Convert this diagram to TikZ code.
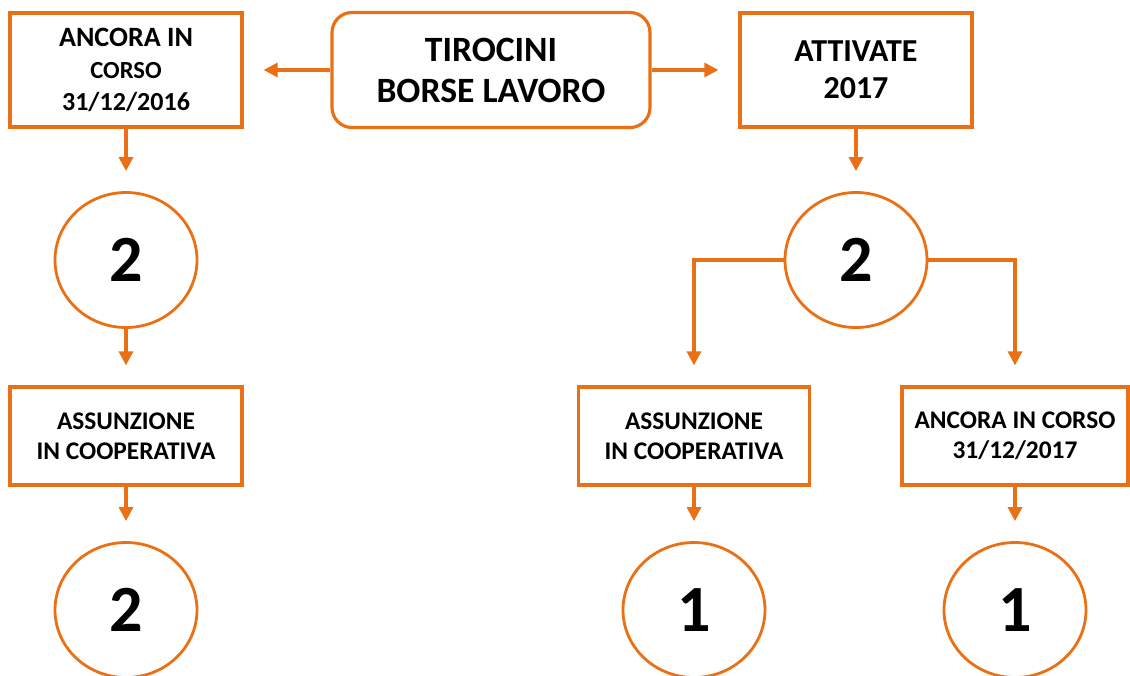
\documentclass[tikz,border=0pt]{standalone}
\usepackage{fontspec}
\setmainfont{Carlito}
\usetikzlibrary{arrows.meta,shapes.geometric}
\definecolor{arancio}{RGB}{234,112,22}
\begin{document}
\begin{tikzpicture}[x=0.5pt,y=-0.5pt,
    box/.style={draw=arancio,line width=1.6pt,minimum width=116pt,minimum height=49pt,
        inner sep=0pt,align=center,font=\bfseries\fontsize{12.7}{15}\selectfont},
    num/.style={draw=arancio,line width=1.4pt,ellipse,minimum width=71pt,minimum height=67.5pt,
        inner sep=0pt,font=\bfseries\fontsize{33}{33}\selectfont},
    arr/.style={draw=arancio,line width=1.6pt,-{Triangle[width=7pt,length=7pt]},shorten >=10pt}]
    \useasboundingbox (0,0) rectangle (1130,675);

    \node[box,rounded corners=10pt,minimum width=159pt,minimum height=57.5pt,
        font=\bfseries\fontsize{17.8}{20.5}\selectfont] (tir) at (491,70) {TIROCINI\\BORSE LAVORO};
    \node[box,minimum height=57pt,font=\bfseries\fontsize{13}{16}\selectfont] (anc16) at (126,70)
        {{\fontsize{14}{16}\selectfont ANCORA IN}\\{\fontsize{12.3}{16}\selectfont CORSO}\\31/12/2016};
    \node[box,minimum height=57pt,font=\bfseries\fontsize{16}{18.5}\selectfont] (att) at (856,70) {ATTIVATE\\2017};

    \node[num] (nl1) at (126,260) {2};
    \node[box] (assl) at (126,436) {ASSUNZIONE\\IN COOPERATIVA};
    \node[num] (nl2) at (126,610) {2};

    \node[num] (nr1) at (856,260) {2};
    \node[box,minimum width=115.5pt] (assr) at (694,436) {ASSUNZIONE\\IN COOPERATIVA};
    \node[box,minimum width=113pt] (anc17) at (1015,436) {ANCORA IN CORSO\\31/12/2017};
    \node[num] (nr2) at (694,610) {1};
    \node[num] (nr3) at (1015,610) {1};

    \begin{scope}[arr]
        \draw (tir.west) -- (anc16.east);
        \draw (tir.east) -- (att.west);
        \draw (anc16.south) -- (nl1.north);
        \draw (nl1.south) -- (assl.north);
        \draw (assl.south) -- (nl2.north);
        \draw (att.south) -- (nr1.north);
        \draw (nr1.west) -| (assr.north);
        \draw (nr1.east) -| (anc17.north);
        \draw (assr.south) -- (nr2.north);
        \draw (anc17.south) -- (nr3.north);
    \end{scope}
\end{tikzpicture}
\end{document}
